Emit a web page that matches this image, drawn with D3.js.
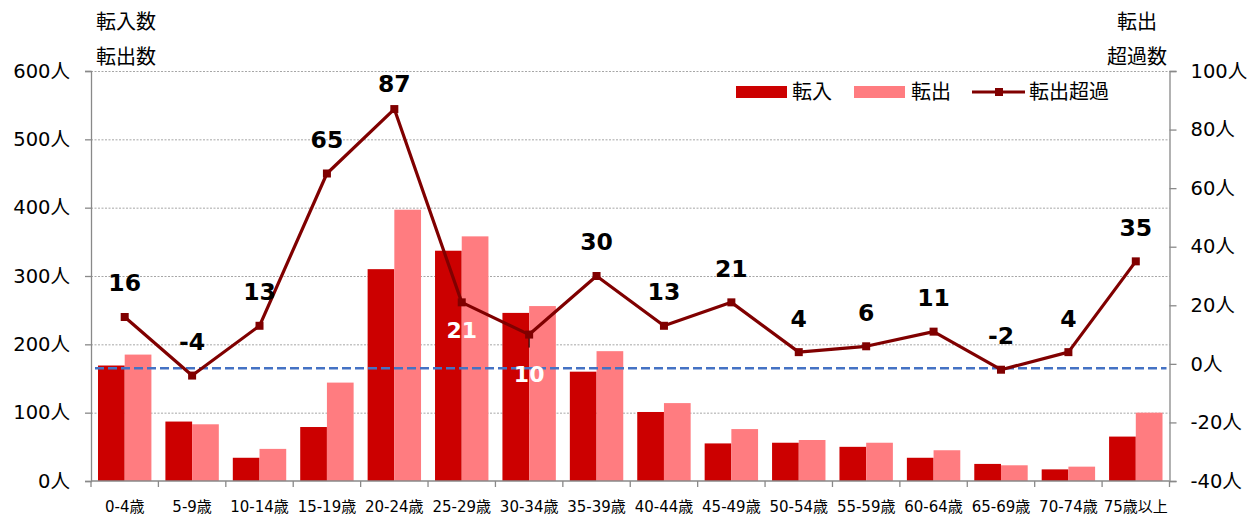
<!DOCTYPE html>
<html lang="ja">
<head>
<meta charset="utf-8">
<script src="https://cdn.jsdelivr.net/npm/d3@7"></script>
<style>
  html, body { margin: 0; padding: 0; background: #fff; }
  svg { display: block; font-family: "DejaVu Sans", "Noto Sans CJK JP", sans-serif; }
</style>
</head>
<body>
<svg id="chart" width="1252" height="515"></svg>
<script>
// Age groups
const categories = ["0-4歳","5-9歳","10-14歳","15-19歳","20-24歳","25-29歳","30-34歳","35-39歳",
  "40-44歳","45-49歳","50-54歳","55-59歳","60-64歳","65-69歳","70-74歳","75歳以上"];
// Moves in (転入) and out (転出), persons
const movedIn  = [169, 87, 34, 79, 310, 337, 246, 160, 101, 55, 56, 50, 34, 25, 17, 65];
const movedOut = [185, 83, 47, 144, 397, 358, 256, 190, 114, 76, 60, 56, 45, 23, 21, 100];
// Net out-migration (転出超過)
const netOut   = [16, -4, 13, 65, 87, 21, 10, 30, 13, 21, 4, 6, 11, -2, 4, 35];
// Axis ticks
const leftTicks  = [0, 100, 200, 300, 400, 500, 600];
const rightTicks = [-40, -20, 0, 20, 40, 60, 80, 100];
// Dashed reference level (left-axis units)
const referenceLevel = 165;

const svg = d3.select("#chart");
const plot = { left: 91, right: 1169.5, top: 71, bottom: 481 };
const font = `"DejaVu Sans", "Noto Sans CJK JP", sans-serif`;
const axisColor = "#898989";

const x = d3.scaleBand().domain(categories).range([plot.left, plot.right]).paddingInner(0).paddingOuter(0);
const xSub = d3.scaleBand().domain(["in", "out"]).range([0, x.step()]).paddingInner(0).paddingOuter(0.262);
const yL = d3.scaleLinear().domain([0, 600]).range([plot.bottom, plot.top]);
const yR = d3.scaleLinear().domain([-40, 100]).range([plot.bottom, plot.top]);

// Gridlines
svg.append("g").selectAll("line").data(leftTicks.filter(d => d > 0)).join("line")
  .attr("x1", plot.left).attr("x2", plot.right)
  .attr("y1", d => yL(d) + 0.5).attr("y2", d => yL(d) + 0.5)
  .attr("stroke", "#a6a6a6").attr("stroke-width", 1).attr("stroke-dasharray", "2,1.5");

// Bars
const groups = svg.append("g").selectAll("g").data(categories).join("g")
  .attr("transform", d => `translate(${x(d)},0)`);
groups.append("rect")
  .attr("x", xSub("in")).attr("width", xSub.bandwidth())
  .attr("y", (d, i) => yL(movedIn[i])).attr("height", (d, i) => plot.bottom - yL(movedIn[i]))
  .attr("fill", "#cc0000");
groups.append("rect")
  .attr("x", xSub("out")).attr("width", xSub.bandwidth())
  .attr("y", (d, i) => yL(movedOut[i])).attr("height", (d, i) => plot.bottom - yL(movedOut[i]))
  .attr("fill", "#ff7c80");

// Reference dashed line
svg.append("line")
  .attr("x1", plot.left + 4).attr("x2", plot.right - 3)
  .attr("y1", yL(referenceLevel)).attr("y2", yL(referenceLevel))
  .attr("stroke", "#4472c4").attr("stroke-width", 2.5).attr("stroke-dasharray", "9,4");

// Left axis
const leftAxis = svg.append("g").attr("transform", `translate(${plot.left},0)`)
  .call(d3.axisLeft(yL).tickValues(leftTicks).tickFormat(d => d + "人").tickSize(6).tickPadding(15));
// Right axis
const rightAxis = svg.append("g").attr("transform", `translate(${plot.right},0)`)
  .call(d3.axisRight(yR).tickValues(rightTicks).tickFormat(d => d + "人").tickSize(7).tickPadding(14));
[leftAxis, rightAxis].forEach(a => {
  a.select(".domain").attr("stroke", axisColor).attr("stroke-width", 1.3);
  a.selectAll(".tick line").attr("stroke", axisColor).attr("stroke-width", 1.3);
  a.selectAll(".tick text").attr("font-family", font).attr("font-size", 19.5).attr("fill", "#000");
});

// Bottom axis with ticks between categories
const bottom = svg.append("g");
bottom.append("line").attr("x1", plot.left).attr("x2", plot.right)
  .attr("y1", plot.bottom).attr("y2", plot.bottom).attr("stroke", axisColor).attr("stroke-width", 1.3);
const boundaries = categories.map(c => x(c)).concat([x(categories[categories.length - 1]) + x.step()]);
bottom.selectAll("line.tk").data(boundaries).join("line").attr("class", "tk")
  .attr("x1", d => d).attr("x2", d => d).attr("y1", plot.bottom).attr("y2", plot.bottom + 6)
  .attr("stroke", axisColor).attr("stroke-width", 1.3);
bottom.selectAll("text").data(categories).join("text")
  .attr("x", d => x(d) + x.step() / 2).attr("y", 512)
  .attr("text-anchor", "middle").attr("font-size", 15).attr("font-family", font).attr("fill", "#000")
  .text(d => d);

// Net out-migration line
const cx = d => x(d) + x.step() / 2;
const line = d3.line().x((d, i) => cx(categories[i])).y(d => yR(d));
svg.append("path").datum(netOut).attr("d", line)
  .attr("fill", "none").attr("stroke", "#800000").attr("stroke-width", 3.2).attr("stroke-linejoin", "round");

// Labels placed below the point (offset in px) for crowded groups
const belowLabels = { "25-29歳": 28, "30-34歳": 40 };

// Leader line for the lower label
svg.append("line")
  .attr("x1", cx("30-34歳")).attr("x2", cx("30-34歳"))
  .attr("y1", yR(netOut[6])).attr("y2", yR(netOut[6]) + 13)
  .attr("stroke", "#000").attr("stroke-width", 1);

svg.append("g").selectAll("rect").data(netOut).join("rect")
  .attr("x", (d, i) => cx(categories[i]) - 4).attr("y", d => yR(d) - 4)
  .attr("width", 8).attr("height", 8).attr("fill", "#800000");

svg.append("g").selectAll("text").data(netOut).join("text")
  .attr("x", (d, i) => cx(categories[i]))
  .attr("y", (d, i) => {
    const c = categories[i];
    if (belowLabels[c] !== undefined) return yR(d) + belowLabels[c];
    return Math.max(84, yR(d) - 34);
  })
  .attr("dy", "0.36em").attr("text-anchor", "middle")
  .attr("font-family", font).attr("font-weight", "bold")
  .attr("font-size", (d, i) => belowLabels[categories[i]] !== undefined ? 22 : 23.5)
  .attr("fill", (d, i) => belowLabels[categories[i]] !== undefined ? "#fff" : "#000")
  .text(d => d);

// Axis titles
const title = (t, xPos, yPos, anchor) => svg.append("text").attr("x", xPos).attr("y", yPos)
  .attr("dy", "0.36em").attr("text-anchor", anchor).attr("font-size", 20).attr("font-family", font)
  .attr("fill", "#000").text(t);
title("転入数", 96, 22, "start");
title("転出数", 96, 57, "start");
title("転出", 1137, 22, "middle");
title("超過数", 1137, 57, "middle");

// Legend
const legend = svg.append("g").attr("font-family", font).attr("font-size", 20).attr("fill", "#000");
legend.append("rect").attr("x", 736).attr("y", 86).attr("width", 51).attr("height", 12).attr("fill", "#cc0000");
legend.append("text").attr("x", 792).attr("y", 92).attr("dy", "0.36em").text("転入");
legend.append("rect").attr("x", 854).attr("y", 86).attr("width", 51).attr("height", 12).attr("fill", "#ff7c80");
legend.append("text").attr("x", 911).attr("y", 92).attr("dy", "0.36em").text("転出");
legend.append("line").attr("x1", 972).attr("x2", 1025).attr("y1", 92).attr("y2", 92)
  .attr("stroke", "#800000").attr("stroke-width", 3.2);
legend.append("rect").attr("x", 995).attr("y", 88).attr("width", 8).attr("height", 8).attr("fill", "#800000");
legend.append("text").attr("x", 1029).attr("y", 92).attr("dy", "0.36em").text("転出超過");
</script>
</body>
</html>
